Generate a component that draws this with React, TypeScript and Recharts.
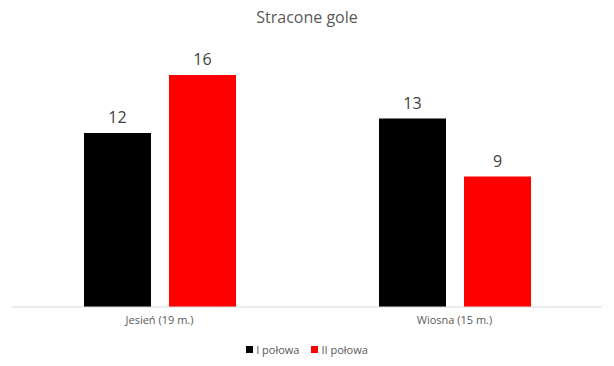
import { BarChart, Bar, XAxis, YAxis, Legend, LabelList } from 'recharts';

const categories = ['Jesień (19 m.)', 'Wiosna (15 m.)'];
const firstHalf = [12, 13];
const secondHalf = [16, 9];
const categoryEdges = [0, 1, 2];

const data = categories.map((name, i) => ({ name, idx: i + 0.5, first: firstHalf[i], second: secondHalf[i] }));

const FONT = '"Open Sans", "Liberation Sans", sans-serif';

function LegendContent() {
  const items = [
    { label: 'I połowa', color: '#000000' },
    { label: 'II połowa', color: '#ff0000' },
  ];
  return (
    <div
      style={{
        display: 'flex',
        justifyContent: 'center',
        gap: 12,
        paddingTop: 5,
        fontFamily: FONT,
        fontSize: 11,
        lineHeight: '15px',
        color: '#595959',
      }}
    >
      {items.map((it) => (
        <div key={it.label} style={{ display: 'flex', alignItems: 'center', gap: 3 }}>
          <span style={{ width: 7, height: 7, background: it.color, display: 'inline-block' }} />
          <span>{it.label}</span>
        </div>
      ))}
    </div>
  );
}

export default function App() {
  return (
    <div style={{ position: 'relative', width: 614, height: 366, background: '#fff' }}>
      <style>{'body{margin:0}'}</style>
      <div
        style={{
          position: 'absolute',
          top: 6,
          width: 614,
          textAlign: 'center',
          fontFamily: FONT,
          fontSize: 16,
          color: '#595959',
        }}
      >
        Stracone gole
      </div>
      <BarChart
        width={614}
        height={366}
        data={data}
        margin={{ top: 46, right: 12, left: 12, bottom: 0 }}
        barGap={18}
        barCategoryGap={72}
      >
        <YAxis hide domain={[0, 18]} />
        {/* numeric axis only draws the baseline and the ticks between categories */}
        <XAxis
          xAxisId={0}
          dataKey="idx"
          type="number"
          domain={[0, categories.length]}
          ticks={categoryEdges}
          tick={false}
          tickSize={4}
          axisLine={{ stroke: '#d9d9d9' }}
          tickLine={{ stroke: '#d9d9d9' }}
          height={1}
        />
        <XAxis
          xAxisId="cat"
          dataKey="name"
          axisLine={false}
          tickLine={false}
          tickMargin={2}
          tick={{ fill: '#595959', fontSize: 11, fontFamily: FONT }}
          height={29}
        />
        <Legend content={<LegendContent />} verticalAlign="bottom" height={29} />
        <Bar xAxisId="cat" dataKey="first" fill="#000000" isAnimationActive={false}>
          <LabelList dataKey="first" position="top" offset={10} style={{ fill: '#404040', fontSize: 16, fontFamily: FONT }} />
        </Bar>
        <Bar xAxisId="cat" dataKey="second" fill="#ff0000" isAnimationActive={false}>
          <LabelList dataKey="second" position="top" offset={10} style={{ fill: '#404040', fontSize: 16, fontFamily: FONT }} />
        </Bar>
      </BarChart>
    </div>
  );
}
